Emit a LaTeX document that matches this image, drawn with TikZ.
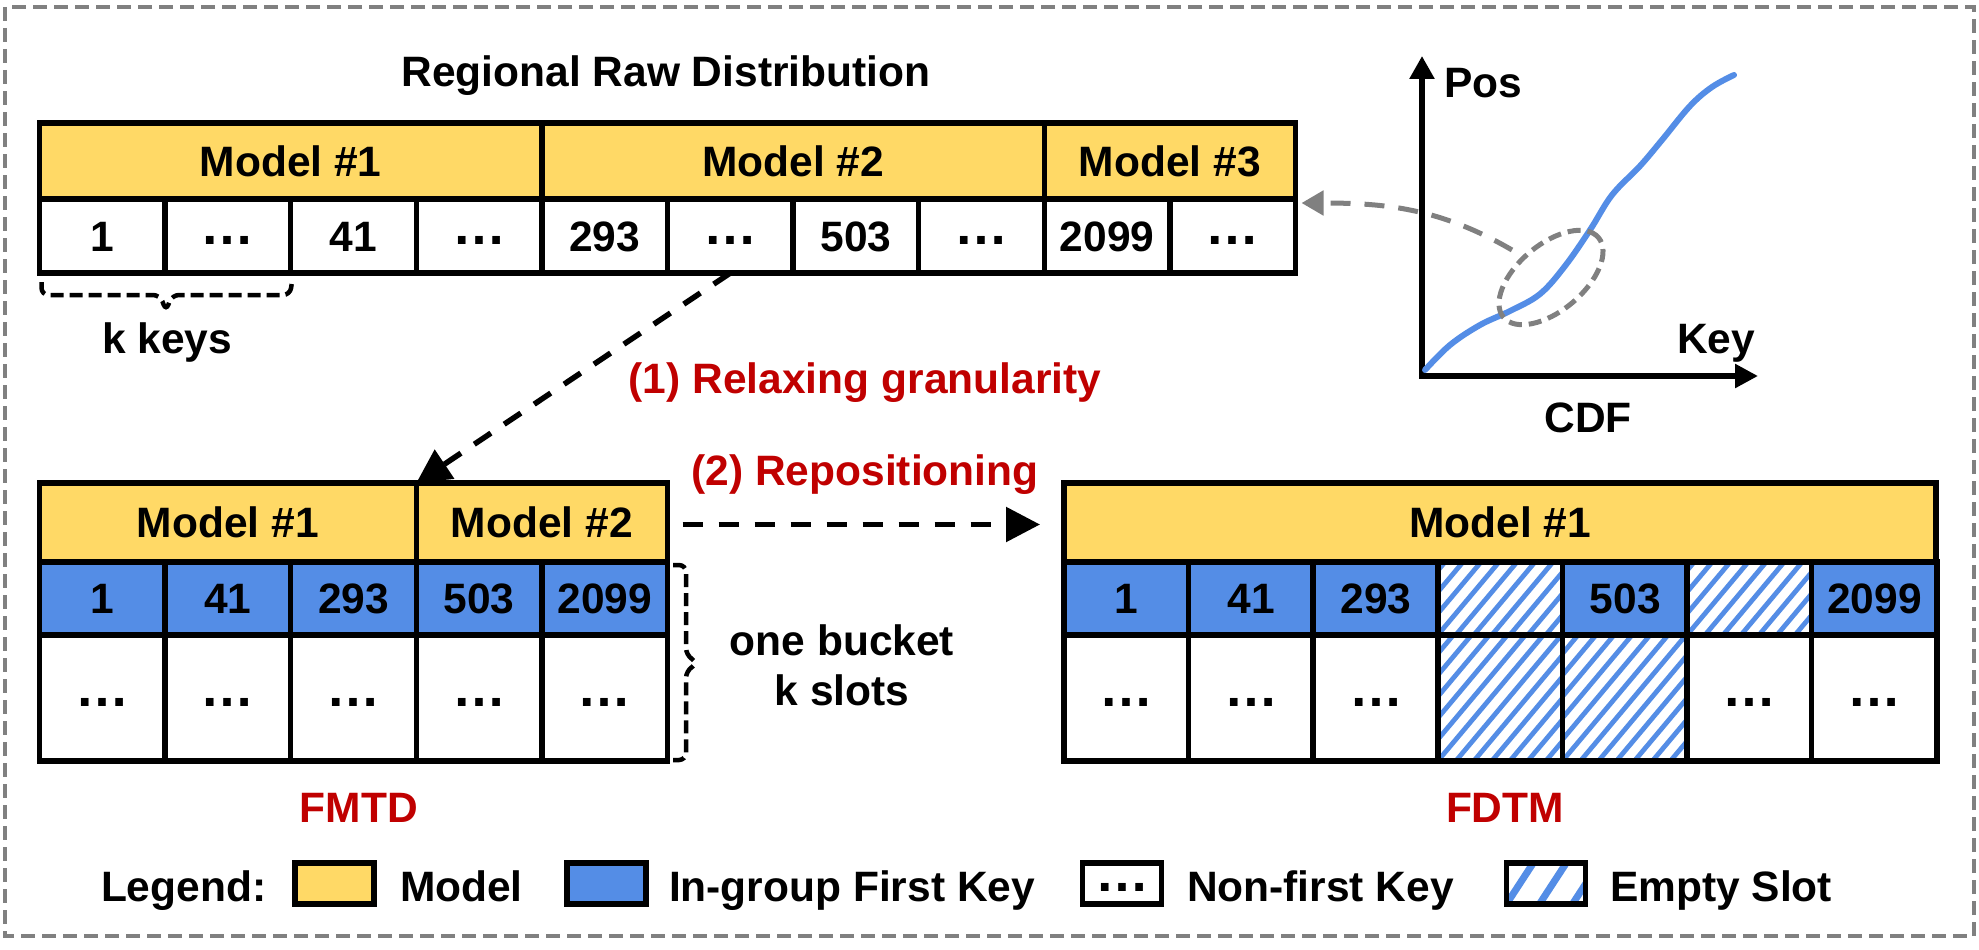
\documentclass[tikz,border=0pt]{standalone}
\usepackage{fontspec}
\setmainfont{Liberation Sans}
\usetikzlibrary{arrows.meta,shapes.geometric,calc}
\definecolor{myyellow}{RGB}{255,217,102}
\definecolor{myblue}{RGB}{84,141,230}
\definecolor{myred}{RGB}{192,0,0}
\definecolor{mygray}{RGB}{128,128,128}
\newcommand{\dotsym}{\raisebox{7pt}{\fontsize{54}{56}\selectfont …}}
\begin{document}
\begin{tikzpicture}[x=1pt,y=-1pt,
  every node/.style={font=\fontsize{42.5}{50}\selectfont\bfseries, inner sep=0pt, outer sep=0pt},
  cellbox/.style={draw, line width=5.5pt, anchor=north west, minimum width=125.6pt, text height=30.5pt, text depth=0pt},
  hdr/.style={cellbox, fill=myyellow},
  keycell/.style={cellbox, fill=myblue, minimum height=73pt},
  hatchcell/.style={cellbox, fill=white, path picture={
      \foreach \k in {-8,...,8} {\draw[myblue, line width=4.8pt] ($(path picture bounding box.south west)+(\k*18,0)$) -- ++(109,-130);}}},
  leghatch/.style={legbox, fill=white, path picture={
      \foreach \k in {-3,...,3} {\draw[myblue, line width=7pt] ($(path picture bounding box.south west)+(\k*33,0)$) -- ++(30,-46);}}},
  legbox/.style={draw, line width=5.5pt, minimum width=79pt, minimum height=41pt},
  lbl/.style={anchor=base},
  redlbl/.style={anchor=base, text=myred},
  arrowdash/.style={line width=5.5pt, dash pattern=on 20pt off 16pt, -{Triangle[length=34pt,width=34pt]}},
  bracedash/.style={line width=4.5pt, dash pattern=on 13pt off 6pt, rounded corners=7pt},
]
\useasboundingbox (0,0) rectangle (1979,950);
\draw[mygray, line width=4pt, dash pattern=on 14pt off 7pt] (5,7) rectangle (1974,936);

% ---------- top table ----------
\node[lbl] (title) at (666,86) {Regional Raw Distribution};
\node[hdr, minimum width=502.4pt, minimum height=76pt] (th1) at (39.5,123) {Model \#1};
\node[hdr, minimum width=502.4pt, minimum height=76pt] (th2) at (th1.north east) {Model \#2};
\node[hdr, minimum width=251.2pt, minimum height=76pt] (th3) at (th2.north east) {Model \#3};
\foreach \v [count=\i from 0] in {1,\dotsym,41,\dotsym,293,\dotsym,503,\dotsym,2099,\dotsym}
  \node[cellbox, fill=white, minimum height=74pt] (t\i) at (39.5+\i*125.6,199) {\v};
\draw[bracedash] (41.5,282) -- (41.5,295) -- (160,295) -- (166,311) -- (172,295) -- (290,295) -- (292,282);
\node[lbl] (kkeys) at (167,353) {k keys};

% ---------- CDF ----------
\coordinate (O) at (1422,376);
\coordinate (ytop) at (1422,56);
\coordinate (xend) at (1758,376);
\draw[line width=5.5pt, {Triangle[length=23pt,width=24pt]}-{Triangle[length=23pt,width=23pt]}] (ytop) -- (O) -- (xend);
\draw[myblue, line width=6pt, line cap=round] plot[smooth, tension=0.6] coordinates {
  (1425,370) (1450,345) (1480,325) (1510,311) (1540,294) (1565,266) (1590,230) (1612,195)
  (1640,166) (1662,140) (1690,106) (1712,87) (1734,75)};
\node[anchor=base west] (pos) at (1444,97) {Pos};
\node[anchor=base west] (key) at (1677,353) {Key};
\node[lbl] (cdf) at (1588,432) {CDF};
\node[draw=mygray, ellipse, line width=5pt, dash pattern=on 13pt off 7pt,
  minimum width=124pt, minimum height=66pt, rotate=40] (ell) at (1551,277.5) {};
\coordinate (es) at (1512,250);
\draw[mygray, line width=5pt, dash pattern=on 20pt off 14pt, -{Triangle[length=22pt,width=24pt]}]
  (es) .. controls (1440,208) and (1385,203) .. ($(t9.north east)+(6,4)$);

% ---------- labels ----------
\node[redlbl] (step1) at (865,393) {(1) Relaxing granularity};
\node[redlbl] (step2) at (865,485) {(2) Repositioning};

% ---------- FMTD ----------
\node[hdr, minimum width=376.8pt, minimum height=79pt] (fh1) at (39.5,483) {Model \#1};
\node[hdr, minimum width=251.2pt, minimum height=79pt] (fh2) at (fh1.north east) {Model \#2};
\foreach \v [count=\i from 0] in {1,41,293,503,2099}
  \node[keycell] (fb\i) at (39.5+\i*125.6,562) {\v};
\foreach \i in {0,...,4}
  \node[cellbox, fill=white, minimum height=126pt] (fd\i) at (39.5+\i*125.6,635) {\dotsym};
\draw[bracedash] (673,565) -- (686,565) -- (686,655) -- (698,663) -- (686,671) -- (686,760) -- (673,760);
\node[lbl] (bk1) at (842,655) {one bucket};
\node[lbl] (bk2) at (842,705) {k slots};
\node[redlbl] (fmtd) at (359,822) {FMTD};

% ---------- FDTM ----------
\begin{scope}[every node/.append style={minimum width=124.6pt}]
\node[hdr, minimum width=872.2pt, minimum height=79pt] (dh) at (1064,483) {Model \#1};
\node[keycell] (db0) at (1064,562) {1};
\node[keycell] (db1) at (1188.6,562) {41};
\node[keycell] (db2) at (1313.2,562) {293};
\node[hatchcell, minimum height=73pt] (db3) at (1437.8,562) {};
\node[keycell] (db4) at (1562.4,562) {503};
\node[hatchcell, minimum height=73pt] (db5) at (1687,562) {};
\node[keycell] (db6) at (1811.6,562) {2099};
\node[cellbox, fill=white, minimum height=126pt] (dd0) at (1064,635) {\dotsym};
\node[cellbox, fill=white, minimum height=126pt] (dd1) at (1188.6,635) {\dotsym};
\node[cellbox, fill=white, minimum height=126pt] (dd2) at (1313.2,635) {\dotsym};
\node[hatchcell, minimum height=126pt] (dd3) at (1437.8,635) {};
\node[hatchcell, minimum height=126pt] (dd4) at (1562.4,635) {};
\node[cellbox, fill=white, minimum height=126pt] (dd5) at (1687,635) {\dotsym};
\node[cellbox, fill=white, minimum height=126pt] (dd6) at (1811.6,635) {\dotsym};
\end{scope}
\node[redlbl] (fdtm) at (1505,822) {FDTM};

% ---------- arrows ----------
\draw[arrowdash] (t5.south) -- (fh1.north east);
\draw[arrowdash] ($(fh2.east)+(15,2)$) -- ($(dh.west)+(-24,2)$);

% ---------- legend ----------
\node[anchor=base west] (lgt0) at (101,901) {Legend:};
\node[legbox, fill=myyellow] (lg1) at (334.5,883.5) {};
\node[anchor=base west] (lgt1) at (400,901) {Model};
\node[legbox, fill=myblue] (lg2) at (606.5,883.5) {};
\node[anchor=base west] (lgt2) at (669,901) {In-group First Key};
\node[legbox, fill=white, text height=30.5pt, text depth=0pt] (lg3) at (1122,883.5) {\dotsym};
\node[anchor=base west] (lgt3) at (1187,901) {Non-first Key};
\node[leghatch] (lg4) at (1546,883.5) {};
\node[anchor=base west] (lgt4) at (1610,901) {Empty Slot};
\end{tikzpicture}
\end{document}
